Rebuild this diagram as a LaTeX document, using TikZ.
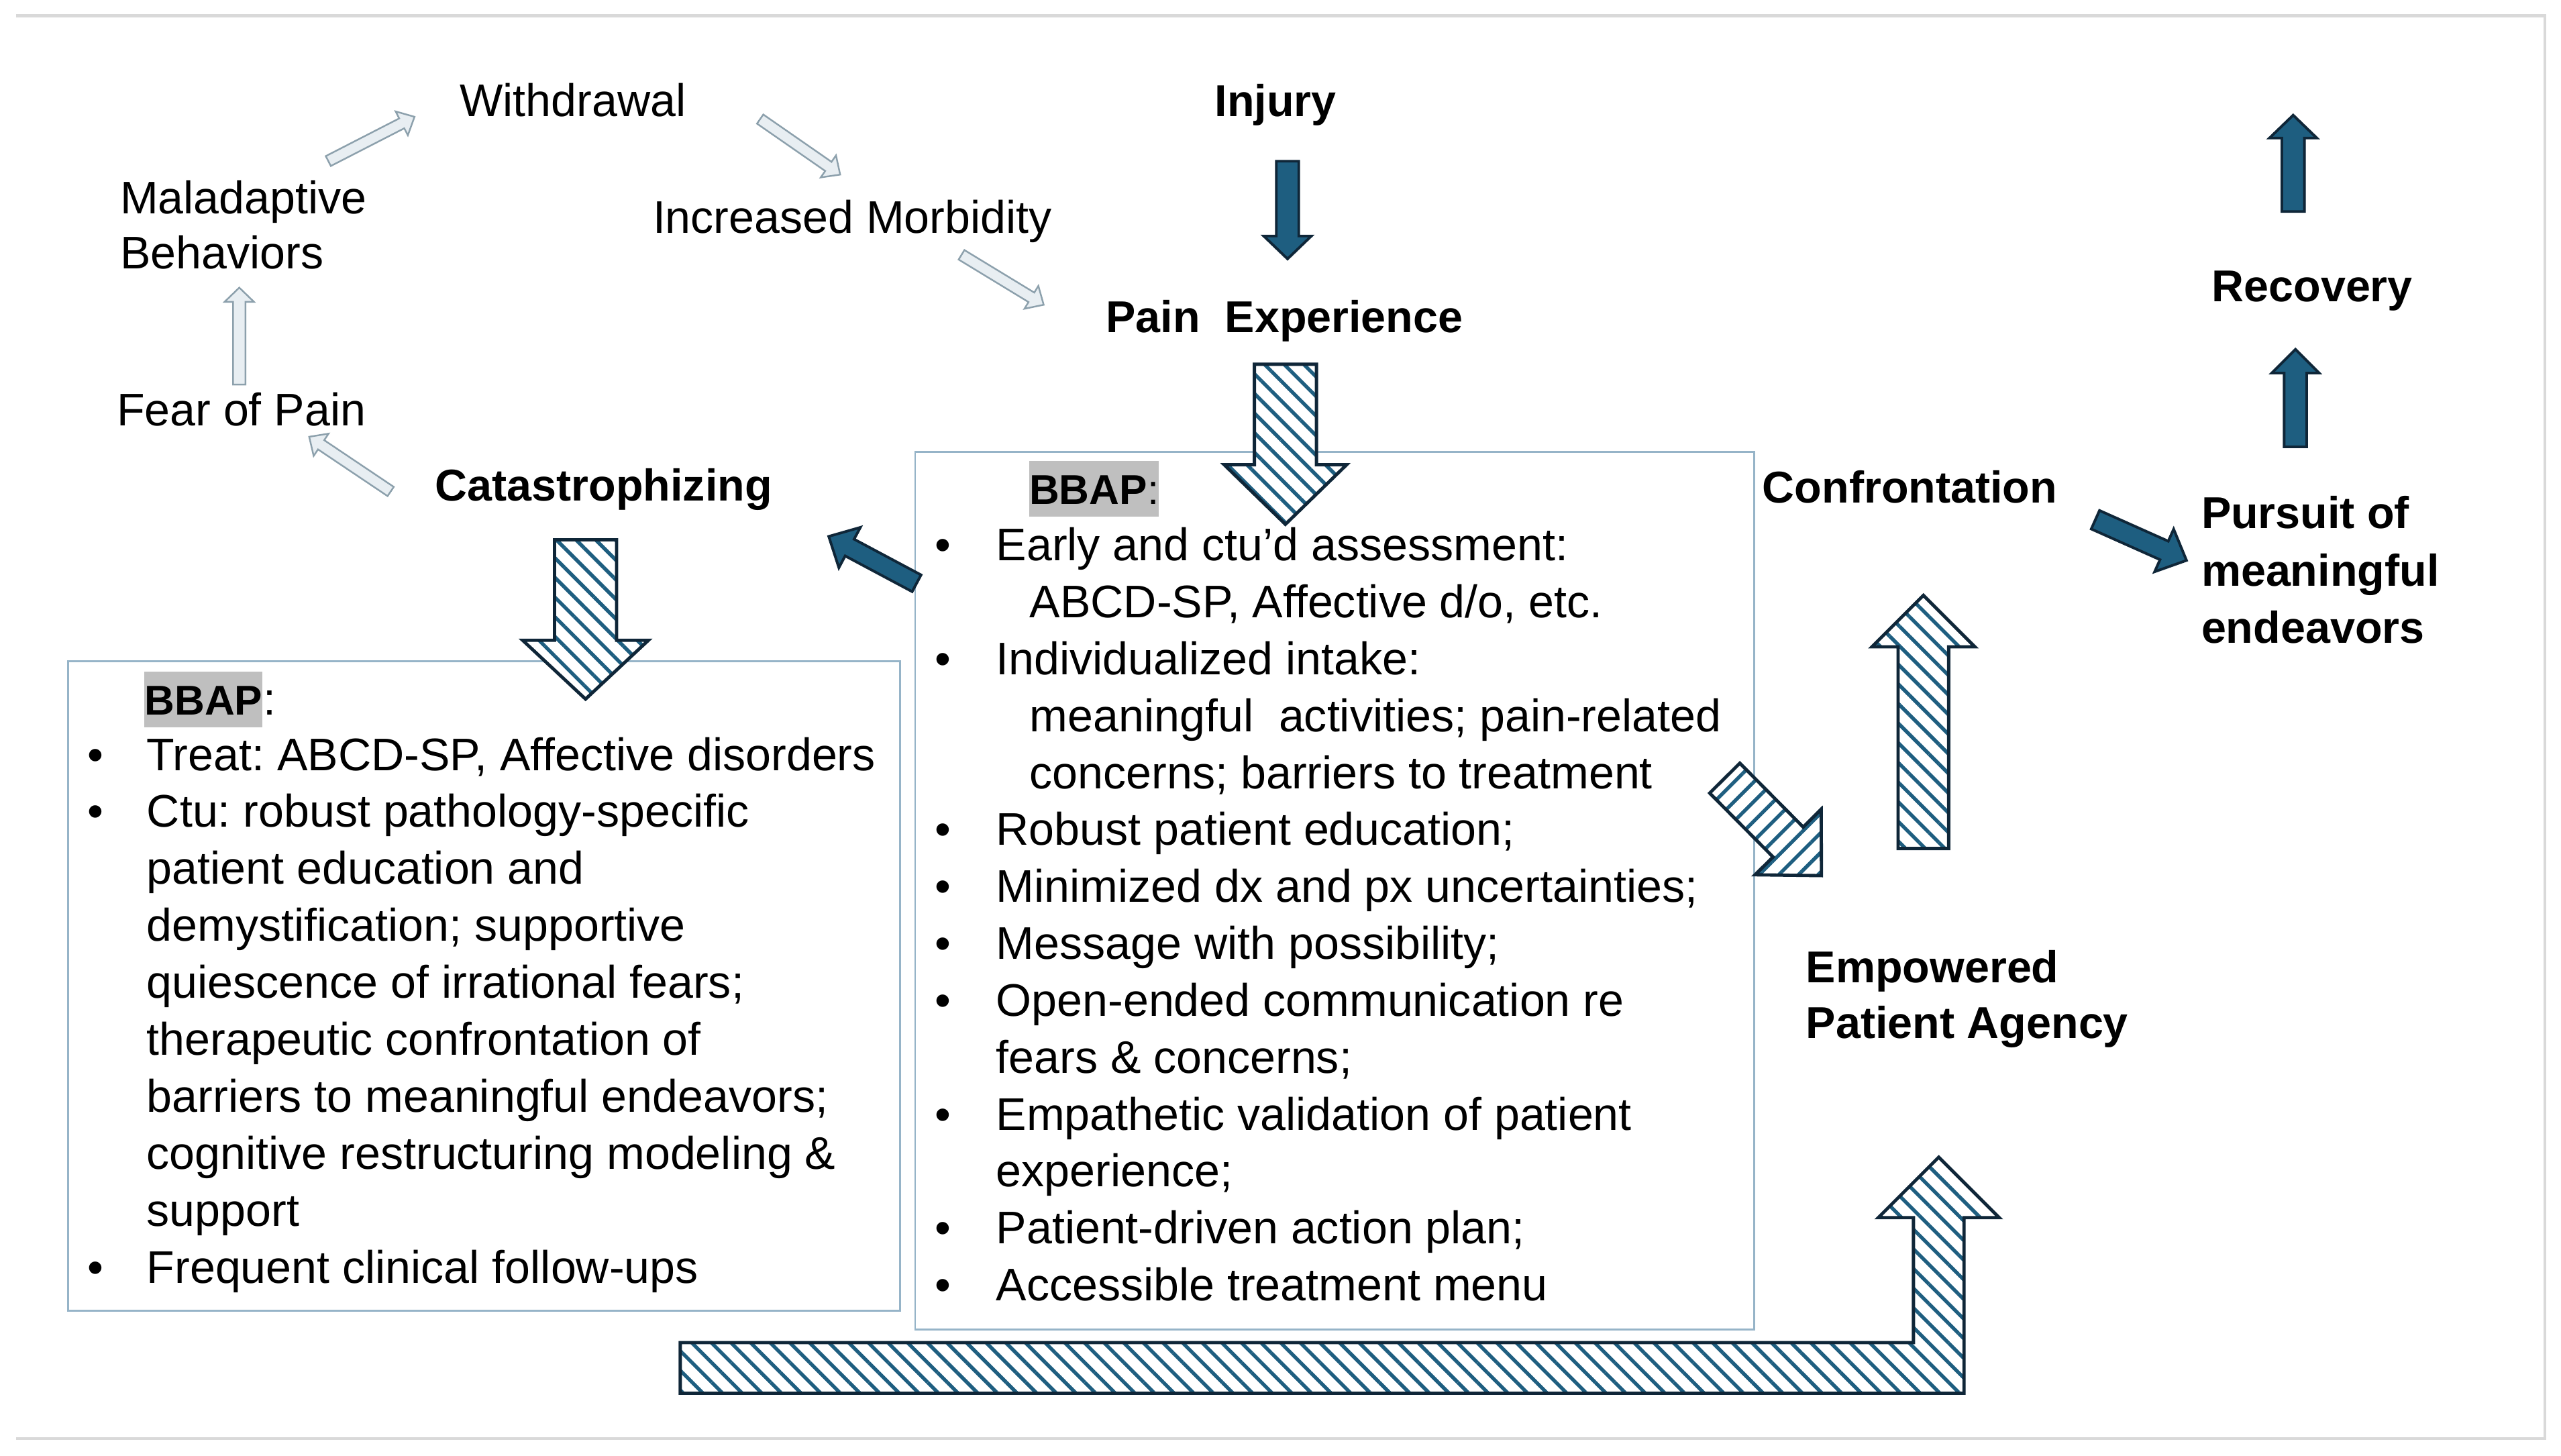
\documentclass[tikz,border=0pt]{standalone}
\usepackage{fontspec}
\setmainfont{Liberation Sans}
\usetikzlibrary{calc,patterns.meta}
\definecolor{darkfill}{RGB}{30,94,128}
\definecolor{darkline}{RGB}{15,38,56}
\definecolor{lightfill}{RGB}{232,238,242}
\definecolor{lightline}{RGB}{140,160,172}
\definecolor{boxline}{RGB}{150,180,200}
\definecolor{frameline}{RGB}{217,217,217}
\definecolor{hlgray}{RGB}{191,191,191}
% block arrow: style, tail, tip, shaft half width, head half width, head length
\newcommand\blockarrow[6]{%
  \coordinate (#2-#3-b) at ($(#3)!#6!(#2)$);
  \draw[#1] ($(#2)!#4!90:(#3)$) -- ($(#2-#3-b)!#4!-90:(#2)$) -- ($(#2-#3-b)!#5!-90:(#2)$) -- (#3)
    -- ($(#2-#3-b)!#5!90:(#2)$) -- ($(#2-#3-b)!#4!90:(#2)$) -- ($(#2)!#4!-90:(#3)$) -- cycle;}
\newcommand\tline[4]{\node[body,anchor=base west] (#1) at (#2,#3) {#4};}
\newcommand\hdline[4]{\node[head,anchor=base west] (#1) at (#2,#3) {#4};}
\newcommand\bul[3]{\node[body,anchor=base] (#1) at (#2,#3) {\textbullet};}
\tikzset{
  body/.style={font=\fontsize{28}{35}\selectfont\frenchspacing, inner sep=0pt},
  head/.style={font=\fontsize{27.3}{35}\selectfont\bfseries\frenchspacing, inner sep=0pt},
  bbap/.style={font=\fontsize{25.5}{35}\selectfont\bfseries, fill=hlgray, inner xsep=0pt, inner ysep=0pt, text height=26.6pt, text depth=7.4pt},
  textbox/.style={draw=boxline, line width=1.2pt},
  framel/.style={draw=frameline, line width=1.8pt},
  darkarrow/.style={draw=darkline, fill=darkfill, line width=1.6pt, line join=miter},
  lightarrow/.style={draw=lightline, fill=lightfill, line width=1pt, line join=miter},
  hatch/.style={draw=darkline, line width=2pt, line join=miter, preaction={fill=white},
    pattern={Lines[angle=-45,distance=8.5pt,line width=2.2pt]}, pattern color=darkfill},
  hatchd/.style={hatch, pattern={Lines[angle=45,distance=8.5pt,line width=2.2pt]}}
}
\begin{document}
\begin{tikzpicture}[x=1pt,y=-1pt]
\useasboundingbox (0,0) rectangle (1568,891.4);
\fill[white] (0,0) rectangle (1568,891.4);
% frame
\draw[framel] (10,9.7) -- (1558,9.7) -- (1558,880.7) -- (10,880.7);

% text boxes
\draw[textbox] (41.6,405) rectangle (551,802.5);
\draw[textbox] (560.3,276.5) rectangle (1074,814);

% cycle labels
\tline{withdrawal}{281.4}{71.2}{Withdrawal}
\tline{malad1}{73.4}{131}{Maladaptive}
\tline{malad2}{73.4}{164.6}{Behaviors}
\tline{morbid}{399.5}{142.9}{Increased Morbidity}
\tline{fear}{71.3}{260.8}{Fear of Pain}
\hdline{catas}{266.3}{306.7}{Catastrophizing}

% main labels
\hdline{injury}{743.6}{71.2}{Injury}
\hdline{painexp}{677}{203.4}{Pain~~Experience}
\hdline{recovery}{1354}{184.7}{Recovery}
\hdline{confront}{1078.9}{307.9}{Confrontation}
\hdline{pursuit1}{1347.6}{323.5}{Pursuit of}
\hdline{pursuit2}{1347.6}{358.8}{meaningful}
\hdline{pursuit3}{1347.6}{393.7}{endeavors}
\hdline{empower1}{1105.6}{601.5}{Empowered}
\hdline{empower2}{1105.6}{635.6}{Patient Agency}

% left box text
\node[bbap,anchor=base west] (L0) at (88.3,437.8) {BBAP};
\node[body,anchor=base west] (L0c) at (L0.base east) {:};
\bul{LB1}{58.4}{471.6}
\tline{L1}{89.7}{471.6}{Treat: ABCD-SP, Affective disorders}
\bul{LB2}{58.4}{506.5}
\tline{L2}{89.7}{506.5}{Ctu: robust pathology-specific}
\tline{L3}{89.7}{541.4}{patient education and}
\tline{L4}{89.7}{576.3}{demystification; supportive}
\tline{L5}{89.7}{611.2}{quiescence of irrational fears;}
\tline{L6}{89.7}{646.1}{therapeutic confrontation of}
\tline{L7}{89.7}{681.0}{barriers to meaningful endeavors;}
\tline{L8}{89.7}{715.9}{cognitive restructuring modeling \&}
\tline{L9}{89.7}{750.8}{support}
\bul{LB3}{58.4}{785.7}
\tline{L10}{89.7}{785.7}{Frequent clinical follow-ups}

% middle box text
\node[bbap,anchor=base west] (M0) at (630,308.8) {BBAP\mdseries:};
\bul{MB1}{577.3}{343.3}
\tline{M1}{609.7}{343.3}{Early and ctu’d assessment:}
\tline{M2}{630.3}{378.15}{ABCD-SP, Affective d/o, etc.}
\bul{MB2}{577.3}{413.0}
\tline{M3}{609.7}{413.0}{Individualized intake:}
\tline{M4}{630.3}{447.85}{meaningful~~activities; pain-related}
\tline{M5}{630.3}{482.7}{concerns; barriers to treatment}
\bul{MB3}{577.3}{517.55}
\tline{M6}{609.7}{517.55}{Robust patient education;}
\bul{MB4}{577.3}{552.4}
\tline{M7}{609.7}{552.4}{Minimized dx and px uncertainties;}
\bul{MB5}{577.3}{587.25}
\tline{M8}{609.7}{587.25}{Message with possibility;}
\bul{MB6}{577.3}{622.1}
\tline{M9}{609.7}{622.1}{Open-ended communication re}
\tline{M10}{609.7}{656.95}{fears \& concerns;}
\bul{MB7}{577.3}{691.8}
\tline{M11}{609.7}{691.8}{Empathetic validation of patient}
\tline{M12}{609.7}{726.65}{experience;}
\bul{MB8}{577.3}{761.5}
\tline{M13}{609.7}{761.5}{Patient-driven action plan;}
\bul{MB9}{577.3}{796.35}
\tline{M14}{609.7}{796.35}{Accessible treatment menu}

% arrow end points
\coordinate (aT) at (201,98.6);     \coordinate (aP) at (253.8,71.5);
\coordinate (bT) at (465.4,72.9);   \coordinate (bP) at (514.4,106.9);
\coordinate (cT) at (588.7,156);    \coordinate (cP) at (639,186.6);
\coordinate (dT) at (146.5,235.4);  \coordinate (dP) at (146.5,176.1);
\coordinate (eT) at (239.2,300.9);  \coordinate (eP) at (189.3,267.4);
\coordinate (injT) at (788.3,98.7); \coordinate (injP) at (788.3,158.5);
\coordinate (r1T) at (1404,129.5);  \coordinate (r1P) at (1404,70.5);
\coordinate (r2T) at (1405.4,273.6);\coordinate (r2P) at (1405.4,213.9);
\coordinate (cpT) at (1282.9,318.2);\coordinate (cpP) at (1338.7,343.1);
\coordinate (bcT) at (561.2,357.1); \coordinate (bcP) at (507.4,328.4);
\coordinate (peT) at (787,223);     \coordinate (peP) at (787,321);
\coordinate (caT) at (358.5,330.5); \coordinate (caP) at (358.5,428);
\coordinate (ecT) at (1177.6,519.5);\coordinate (ecP) at (1177.6,364.5);
\coordinate (dgT) at (1056,476.4);  \coordinate (dgP) at (1115.2,536.1);

% light cycle arrows
\blockarrow{lightarrow}{aT}{aP}{3.4pt}{8.2pt}{8.8pt}
\blockarrow{lightarrow}{bT}{bP}{3.4pt}{8.2pt}{8.8pt}
\blockarrow{lightarrow}{cT}{cP}{3.4pt}{8.2pt}{8.8pt}
\blockarrow{lightarrow}{dT}{dP}{3.8pt}{9pt}{8.7pt}
\blockarrow{lightarrow}{eT}{eP}{3.4pt}{8.2pt}{8.8pt}

% dark arrows
\blockarrow{darkarrow}{injT}{injP}{6.9pt}{14.6pt}{14pt}
\blockarrow{darkarrow}{r1T}{r1P}{6.9pt}{14.5pt}{14pt}
\blockarrow{darkarrow}{r2T}{r2P}{6.9pt}{14.5pt}{14.5pt}
\blockarrow{darkarrow}{cpT}{cpP}{6.2pt}{14.3pt}{15pt}
\blockarrow{darkarrow}{bcT}{bcP}{5.8pt}{14pt}{14.5pt}

% hatched arrows
\blockarrow{hatch}{peT}{peP}{19pt}{37.5pt}{36.5pt}
\blockarrow{hatch}{caT}{caP}{19pt}{38.5pt}{36pt}
\blockarrow{hatch}{ecT}{ecP}{15.5pt}{31.5pt}{31.5pt}
\blockarrow{hatchd}{dgT}{dgP}{13pt}{28.5pt}{29pt}
% L-shaped arrow
\draw[hatch] (416.5,822) -- (1171.5,822) -- (1171.5,745.5) -- (1150,745.5) -- (1187,708.5)
  -- (1224,745.5) -- (1202.5,745.5) -- (1202.5,853) -- (416.5,853) -- cycle;
\end{tikzpicture}
\end{document}
